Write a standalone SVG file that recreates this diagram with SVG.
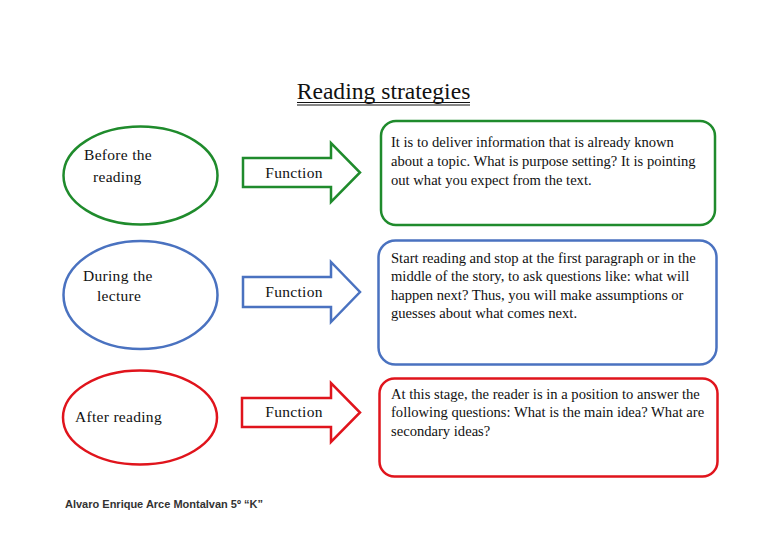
<svg xmlns="http://www.w3.org/2000/svg" width="768" height="543" viewBox="0 0 768 543">
<style>
.t{font-family:"Liberation Serif","Times New Roman",serif;font-size:15.5px;letter-spacing:0.3px;fill:#111}
.b{font-family:"Liberation Serif","Times New Roman",serif;font-size:14.6px;fill:#111}
.g{stroke:#1f8b2c;fill:none;stroke-width:2.5}
.bl{stroke:#4a72c0;fill:none;stroke-width:2.5}
.r{stroke:#e0141c;fill:none;stroke-width:2.5}
</style>
<rect width="768" height="543" fill="#fff"/>
<g id="title">
<text x="383.5" y="99" text-anchor="middle" style="font-family:'Liberation Serif',serif;font-size:23.6px;fill:#111">Reading strategies</text>
<line x1="297" y1="102.5" x2="470" y2="102.5" stroke="#111" stroke-width="1"/>
<line x1="297" y1="105" x2="470" y2="105" stroke="#111" stroke-width="1"/>
</g>
<g id="before">
<ellipse class="g" cx="140.5" cy="175.5" rx="77" ry="49"/>
<text class="t" x="84" y="160">Before the</text>
<text class="t" x="93" y="182">reading</text>
</g>
<g id="during">
<ellipse class="bl" cx="140.5" cy="295" rx="77" ry="54"/>
<text class="t" x="83" y="281">During the</text>
<text class="t" x="97" y="301">lecture</text>
</g>
<g id="after">
<ellipse class="r" cx="140" cy="417.5" rx="77" ry="47"/>
<text class="t" x="75" y="422">After reading</text>
</g>
<g id="connectors">
<g id="arrow1">
<polygon class="g" points="243,158 331,158 331,143 360,172.5 331,202 331,187 243,187"/>
<text class="t" x="294" y="178" text-anchor="middle">Function</text>
</g>
<g id="arrow2">
<polygon class="bl" points="243,277 331,277 331,262 360,292 331,322 331,307 243,307"/>
<text class="t" x="294" y="297" text-anchor="middle">Function</text>
</g>
<g id="arrow3">
<polygon class="r" points="242,398 331,398 331,383 360,412.5 331,442 331,427 242,427"/>
<text class="t" x="294" y="417" text-anchor="middle">Function</text>
</g>
</g>
<g id="box1">
<rect class="g" x="381" y="121" width="334" height="104" rx="15"/>
<text class="b" x="391" y="147">It is to deliver information that is already known</text>
<text class="b" x="391" y="166">about a topic. What is purpose setting? It is pointing</text>
<text class="b" x="391" y="185">out what you expect from the text.</text>
</g>
<g id="box2">
<rect class="bl" x="378.5" y="240.5" width="338" height="124" rx="17"/>
<text class="b" x="391" y="263">Start reading and stop at the first paragraph or in the</text>
<text class="b" x="391" y="281">middle of the story, to ask questions like: what will</text>
<text class="b" x="391" y="300">happen next? Thus, you will make assumptions or</text>
<text class="b" x="391" y="318">guesses about what comes next.</text>
</g>
<g id="box3">
<rect class="r" x="379.5" y="378.5" width="338" height="98" rx="15"/>
<text class="b" x="391" y="399">At this stage, the reader is in a position to answer the</text>
<text class="b" x="391" y="417">following questions: What is the main idea? What are</text>
<text class="b" x="391" y="436">secondary ideas?</text>
</g>
<g id="footer">
<text x="65" y="508" style="font-family:'Liberation Sans',Arial,sans-serif;font-size:11px;font-weight:bold;fill:#333">Alvaro Enrique Arce Montalvan 5º “K”</text>
</g>
</svg>
